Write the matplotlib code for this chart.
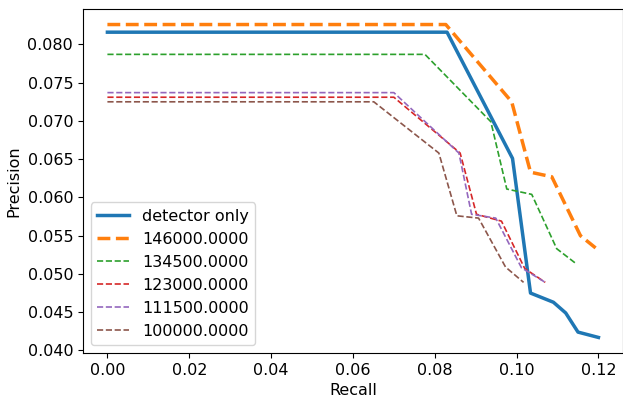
import matplotlib
matplotlib.use("Agg")
import matplotlib.pyplot as plt

plt.rcParams['font.size'] = 11.5

# detector only
det_r = [0.0, 0.083, 0.099, 0.1034, 0.109, 0.112, 0.115, 0.120]
det_p = [0.0816, 0.0816, 0.0651, 0.0475, 0.0463, 0.0449, 0.0424, 0.0417]

# 146000
r146 = [0.0, 0.0827, 0.0988, 0.1034, 0.1086, 0.1156, 0.1193]
p146 = [0.0826, 0.0826, 0.0725, 0.0633, 0.0627, 0.0550, 0.0534]

# 134500
r134 = [0.0, 0.0776, 0.0937, 0.0976, 0.1037, 0.1098, 0.1144]
p134 = [0.0787, 0.0787, 0.0699, 0.0611, 0.0604, 0.0533, 0.0514]

# 123000
r123 = [0.0, 0.070, 0.0862, 0.0902, 0.0963, 0.102, 0.107]
p123 = [0.0731, 0.0731, 0.0658, 0.0578, 0.0569, 0.0507, 0.0489]

# 111500
r111 = [0.0, 0.070, 0.0859, 0.089, 0.0949, 0.1012, 0.107]
p111 = [0.0737, 0.0737, 0.0658, 0.0578, 0.0573, 0.0508, 0.0489]

# 100000
r100 = [0.0, 0.0651, 0.081, 0.0854, 0.0907, 0.0973, 0.1017]
p100 = [0.0725, 0.0725, 0.0658, 0.0576, 0.0573, 0.0509, 0.0489]

fig, ax = plt.subplots(figsize=(6.23, 4.04), dpi=100)
ax.plot(det_r, det_p, '-', color='tab:blue', lw=2.5, label='detector only')
ax.plot(r146, p146, '--', color='tab:orange', lw=2.5, label='146000.0000')
ax.plot(r134, p134, '--', color='tab:green', lw=1.2, label='134500.0000')
ax.plot(r123, p123, '--', color='tab:red', lw=1.2, label='123000.0000')
ax.plot(r111, p111, '--', color='tab:purple', lw=1.2, label='111500.0000')
ax.plot(r100, p100, '--', color='tab:brown', lw=1.2, label='100000.0000')

ax.set_xlabel('Recall')
ax.set_ylabel('Precision')
ax.legend(loc='lower left')

fig.subplots_adjust(left=0.133, right=1.0, top=0.978, bottom=0.126)
fig.savefig('out.png', dpi=100)
